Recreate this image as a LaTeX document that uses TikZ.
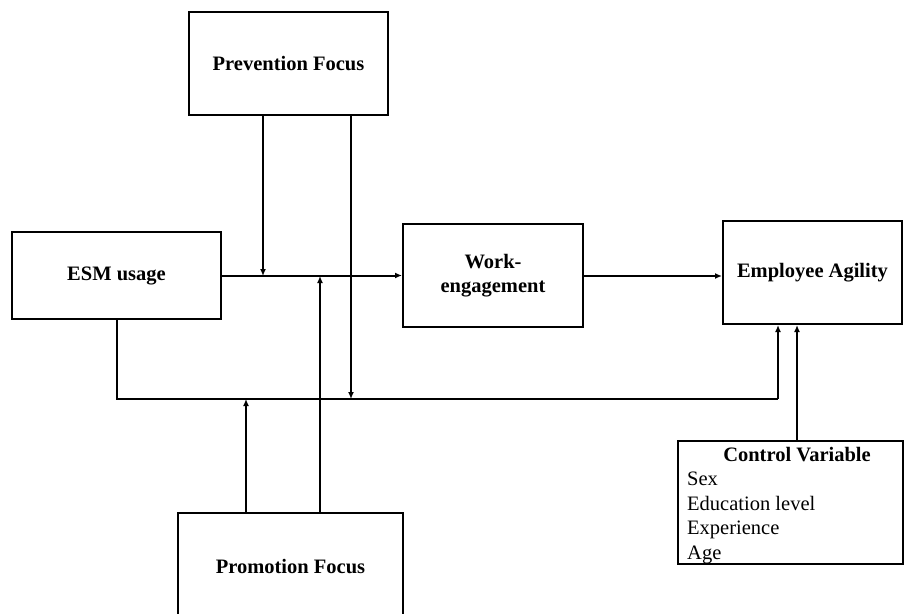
\documentclass[tikz,border=0pt]{standalone}
\usepackage{fontspec}
\setmainfont{Liberation Serif}
\usetikzlibrary{arrows.meta}
\begin{document}
\begin{tikzpicture}[x=1pt,y=-1pt,
  box/.style={draw,line width=2pt,inner sep=0pt,align=center,font=\fontsize{20.5}{24}\selectfont\bfseries},
  arr/.style={line width=2pt,-{Latex[length=7pt,width=6pt]}},
  ln/.style={line width=2pt}]
\clip (0,0) rectangle (904,613);
\useasboundingbox (0,0) rectangle (904,613);
\fill[white] (0,0) rectangle (904,613);
% boxes
\node[box,minimum width=199pt,minimum height=103pt] (prev) at (288.5,63.5) {Prevention Focus};
\node[box,minimum width=209pt,minimum height=87pt] (esm) at (116.5,275.5) {ESM usage};
\node[box,minimum width=180pt,minimum height=103pt] (work) at (493,275.5) {Work-\\engagement};
\node[box,minimum width=179pt,minimum height=103pt] (agil) at (812.5,272.5) {Employee Agility};
\node[box,minimum width=225pt,minimum height=123pt] (ctrl) at (790.5,502.5) {};
\node[font=\fontsize{20.5}{24}\selectfont\bfseries,inner sep=0pt] (ctrlt) at (797,455) {Control Variable};
\node[font=\fontsize{20.5}{24.5}\selectfont,anchor=north west,align=left,inner sep=0pt] (ctrll) at (687,472) {Sex\\Education level\\Experience\\Age};
\node[box,minimum width=225pt,minimum height=108pt] (prom) at (290.5,567) {Promotion Focus};
% junction coordinates
\coordinate (j1) at (263,276);
\coordinate (j2) at (351,399);
\coordinate (j3) at (246,399);
\coordinate (j4) at (320,276);
\coordinate (c) at (778,399);
\coordinate (k) at (797,0);
% connectors
\draw[arr] (esm) -- (work);
\draw[arr] (work.east |- j1) -- (agil.west |- j1);
\draw[arr] (prev.south -| j1) -- (j1);
\draw[arr] (prev.south -| j2) -- (j2);
\draw[ln] (esm.south) |- (c);
\draw[arr] (c) -- (c |- agil.south);
\draw[arr] (prom.north -| j3) -- (j3);
\draw[arr] (prom.north -| j4) -- (j4);
\draw[arr] (ctrl.north -| k) -- (agil.south -| k);
\end{tikzpicture}
\end{document}
